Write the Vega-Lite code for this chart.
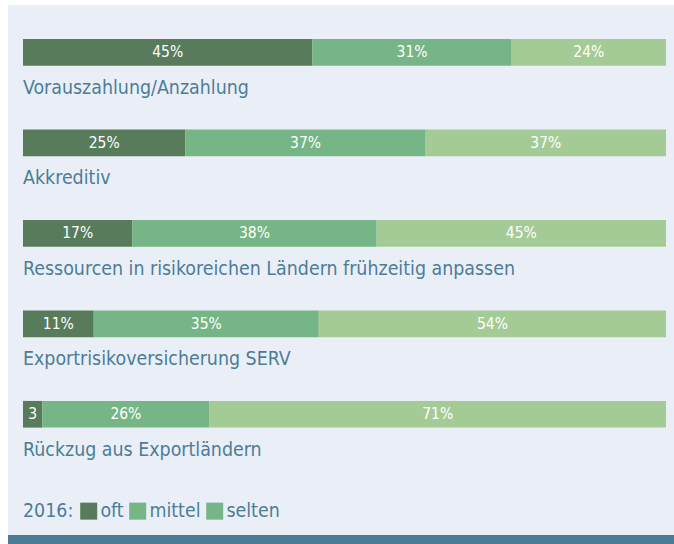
{
  "$schema": "https://vega.github.io/schema/vega-lite/v6.json",
  "width": 666,
  "height": 534.5,
  "autosize": {"type": "none"},
  "padding": {"left": 8, "top": 5, "right": 0, "bottom": 4.5},
  "background": "#ffffff",
  "config": {
    "view": {"fill": "#eaeff7", "stroke": null},
    "font": "DejaVu Sans Condensed, DejaVu Sans, sans-serif"
  },
  "data": {
    "values": [
      {"item": "Vorauszahlung/Anzahlung", "level": "oft", "value": 45, "label": "45%"},
      {"item": "Vorauszahlung/Anzahlung", "level": "mittel", "value": 31, "label": "31%"},
      {"item": "Vorauszahlung/Anzahlung", "level": "selten", "value": 24, "label": "24%"},
      {"item": "Akkreditiv", "level": "oft", "value": 25, "label": "25%"},
      {"item": "Akkreditiv", "level": "mittel", "value": 37, "label": "37%"},
      {"item": "Akkreditiv", "level": "selten", "value": 37, "label": "37%"},
      {"item": "Ressourcen in risikoreichen Ländern frühzeitig anpassen", "level": "oft", "value": 17, "label": "17%"},
      {"item": "Ressourcen in risikoreichen Ländern frühzeitig anpassen", "level": "mittel", "value": 38, "label": "38%"},
      {"item": "Ressourcen in risikoreichen Ländern frühzeitig anpassen", "level": "selten", "value": 45, "label": "45%"},
      {"item": "Exportrisikoversicherung SERV", "level": "oft", "value": 11, "label": "11%"},
      {"item": "Exportrisikoversicherung SERV", "level": "mittel", "value": 35, "label": "35%"},
      {"item": "Exportrisikoversicherung SERV", "level": "selten", "value": 54, "label": "54%"},
      {"item": "Rückzug aus Exportländern", "level": "oft", "value": 3, "label": "3"},
      {"item": "Rückzug aus Exportländern", "level": "mittel", "value": 26, "label": "26%"},
      {"item": "Rückzug aus Exportländern", "level": "selten", "value": 71, "label": "71%"}
    ]
  },
  "transform": [
    {"calculate": "indexof(['oft','mittel','selten'], datum.level)", "as": "ord"},
    {"stack": "value", "groupby": ["item"], "sort": [{"field": "ord", "order": "ascending"}], "offset": "normalize", "as": ["v0", "v1"]},
    {"calculate": "(datum.v0 + datum.v1) / 2", "as": "mid"}
  ],
  "encoding": {
    "y": {
      "field": "item",
      "type": "nominal",
      "sort": ["Vorauszahlung/Anzahlung", "Akkreditiv", "Ressourcen in risikoreichen Ländern frühzeitig anpassen", "Exportrisikoversicherung SERV", "Rückzug aus Exportländern"],
      "scale": {"paddingInner": 0.705, "paddingOuter": 0.806, "align": 0.233},
      "axis": null
    }
  },
  "resolve": {"scale": {"color": "independent"}, "legend": {"color": "independent"}},
  "layer": [
    {
      "mark": {"type": "bar"},
      "encoding": {
        "x": {
          "field": "v0",
          "type": "quantitative",
          "scale": {"domain": [-0.02333, 1.01244], "nice": false, "zero": false},
          "axis": {"domain": true, "domainColor": "#4a7a94", "domainWidth": 9, "domainCap": "butt", "ticks": false, "labels": false, "grid": false, "title": null, "translate": 0}
        },
        "x2": {"field": "v1"},
        "color": {
          "field": "level",
          "type": "nominal",
          "scale": {"domain": ["oft", "mittel", "selten"], "range": ["#587b5c", "#76b585", "#a4cb95"]},
          "legend": null
        }
      }
    },
    {
      "mark": {"type": "bar", "opacity": 0},
      "encoding": {
        "x": {"field": "v0", "type": "quantitative"},
        "x2": {"field": "v1"},
        "color": {
          "field": "level",
          "type": "nominal",
          "scale": {"domain": ["oft", "mittel", "selten"], "range": ["#587b5c", "#76b585", "#76b585"]},
          "legend": {
            "orient": "none",
            "legendX": 15,
            "legendY": 496,
            "direction": "horizontal",
            "title": "2016:",
            "titleOrient": "left",
            "titleFontSize": 19.4,
            "titleFontWeight": "normal",
            "titleColor": "#4b7d98",
            "titlePadding": 5,
            "titleBaseline": "middle",
            "labelFontSize": 19.4,
            "labelColor": "#4b7d98",
            "labelOffset": 2,
            "labelBaseline": "middle",
            "columnPadding": 4,
            "symbolType": "square",
            "symbolSize": 289,
            "symbolStrokeWidth": 0,
            "symbolOpacity": 1
          }
        }
      }
    },
    {
      "mark": {"type": "text", "color": "#ffffff", "fontSize": 15.5, "baseline": "middle"},
      "encoding": {
        "x": {"field": "mid", "type": "quantitative"},
        "text": {"field": "label"}
      }
    },
    {
      "transform": [{"filter": "datum.level === 'oft'"}],
      "mark": {"type": "text", "color": "#4b7d98", "fontSize": 19.4, "align": "left", "baseline": "alphabetic", "dy": 41.6},
      "encoding": {
        "x": {"field": "v0", "type": "quantitative"},
        "text": {"field": "item"}
      }
    }
  ]
}
